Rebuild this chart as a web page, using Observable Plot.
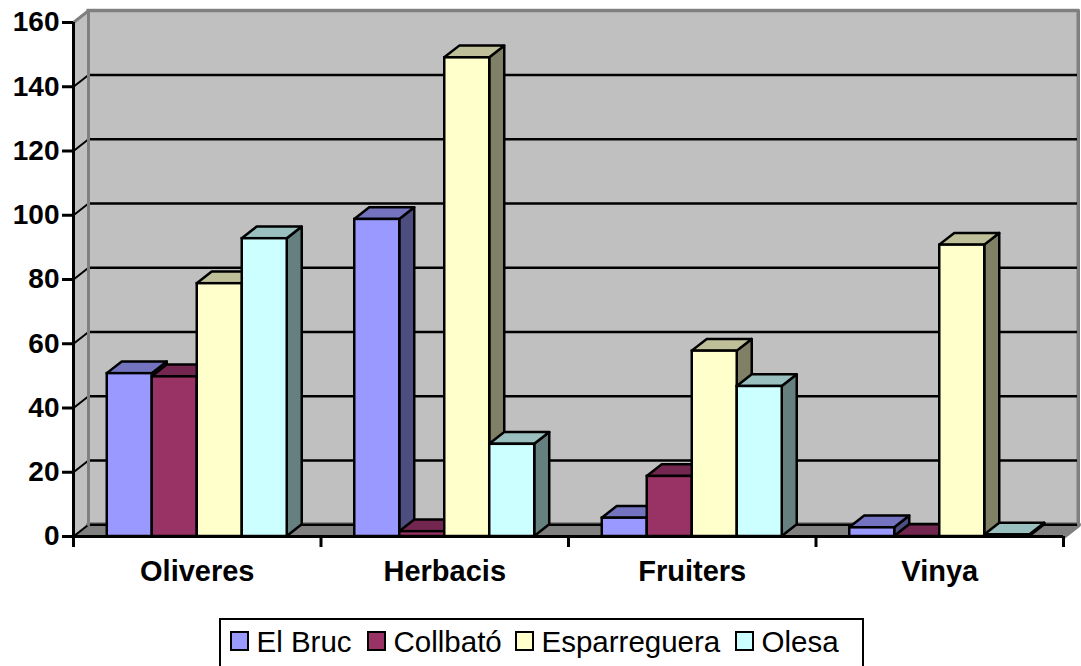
<!DOCTYPE html>
<html><head><meta charset="utf-8">
<script src="https://cdn.jsdelivr.net/npm/d3@7"></script>
<script src="https://cdn.jsdelivr.net/npm/@observablehq/plot@0.6"></script>
<style>
html,body{margin:0;padding:0;background:#fff;width:1081px;height:666px;overflow:hidden}
body{position:relative;font-family:"Liberation Sans",Arial,sans-serif}
#chart svg{display:block}
#legend{position:absolute;left:219px;top:618px;width:641px;height:70px;border:2.5px solid #000;font-size:29.5px;line-height:34px;color:#000}
.sw{display:inline-block;box-sizing:border-box;width:19px;height:20px;border:2.5px solid #000;flex:none;margin-top:6px}
.it{display:flex;position:absolute;top:5px}
.it span:last-child{margin-left:8px}
</style></head><body>
<div id="chart"></div>
<div id="legend"></div>
<script>
const categories = ["Oliveres", "Herbacis", "Fruiters", "Vinya"];
const seriesNames = ["El Bruc", "Collbató", "Esparreguera", "Olesa"];
const elBruc = [50.7, 98.7, 5.7, 2.7];
const collbato = [49.7, 1.5, 18.7, 0];
const esparreguera = [78.7, 149, 57.7, 90.7];
const olesa = [92.7, 28.7, 46.7, 0.5];
const seriesValues = [elBruc, collbato, esparreguera, olesa];
const frontColors = ["#9999ff", "#993366", "#ffffcc", "#ccffff"];
const sideColors = ["#4d4d80", "#4d1a33", "#808066", "#668080"];
const topColors = ["#7373bf", "#732650", "#bfbf99", "#99bfbf"];
const yTicks = [0, 20, 40, 60, 80, 100, 120, 140, 160];

const depthX = 0.0606, depthY = 3.65, barW = 0.1818, gap = (1 - 4 * barW) / 2;
const bw = 2.5;
const marks = [];

// walls and floor
marks.push(Plot.areaX([{y:0,a:0,b:4},{y:depthY,a:depthX,b:4+depthX}],
  {y:"y",x1:"a",x2:"b",fill:"#808080",stroke:"#808080",strokeWidth:1}));
marks.push(Plot.rect([{}],{x1:depthX,x2:4+depthX,y1:depthY,y2:160+depthY,fill:"#c0c0c0",stroke:"#808080",strokeWidth:3}));
marks.push(Plot.areaY([{x:0,a:0,b:160},{x:depthX,a:depthY,b:160+depthY}],
  {x:"x",y1:"a",y2:"b",fill:"#c0c0c0",stroke:"#808080",strokeWidth:1}));
marks.push(Plot.line([{x:depthX,y:depthY},{x:4+depthX,y:depthY},{x:4,y:0}],{x:"x",y:"y",stroke:"#808080",strokeWidth:5}));
// grid
marks.push(Plot.ruleY(yTicks.slice(1,-1).concat(0),{y:d=>d+depthY,x1:depthX,x2:4+depthX,stroke:"#000",strokeWidth:2.5}));
for (const t of yTicks.slice(0,-1))
  marks.push(Plot.line([{x:0,y:t},{x:depthX,y:t+depthY}],{x:"x",y:"y",stroke:"#000",strokeWidth:2}));
marks.push(Plot.line([{x:depthX,y:depthY},{x:depthX,y:160+depthY}],{x:"x",y:"y",stroke:"#808080",strokeWidth:3}));
marks.push(Plot.line([{x:0,y:160},{x:depthX,y:160+depthY},{x:4+depthX,y:160+depthY},{x:4+depthX,y:depthY}],{x:"x",y:"y",stroke:"#808080",strokeWidth:3}));

// bars
categories.forEach((c, i) => {
  seriesValues.forEach((vals, s) => {
    const v = vals[i], x1 = i + gap + s * barW, x2 = x1 + barW;
    marks.push(Plot.areaY([{x:x2,a:0,b:v},{x:x2+depthX,a:depthY,b:v+depthY}],
      {x:"x",y1:"a",y2:"b",fill:sideColors[s],stroke:"#000",strokeWidth:bw,strokeLinejoin:"round"}));
    marks.push(Plot.areaX([{y:v,a:x1,b:x2},{y:v+depthY,a:x1+depthX,b:x2+depthX}],
      {y:"y",x1:"a",x2:"b",fill:topColors[s],stroke:"#000",strokeWidth:bw,strokeLinejoin:"round"}));
    marks.push(Plot.rect([{}],{x1,x2,y1:0,y2:v,fill:frontColors[s],stroke:"#000",strokeWidth:bw}));
  });
});

// axes
marks.push(Plot.ruleX([0],{y1:0,y2:160,stroke:"#000",strokeWidth:3}));
marks.push(Plot.ruleY([0],{x1:0,x2:4,stroke:"#000",strokeWidth:3}));
const axisFont = {fontWeight:"bold",fontFamily:"'Liberation Sans',Arial,sans-serif",fill:"#000"};
marks.push(Plot.axisY({ticks:yTicks,tickSize:11,tickPadding:3,strokeWidth:3,stroke:"#000",label:null,tickFormat:d=>d,fontSize:28,...axisFont}));
marks.push(Plot.axisX({ticks:[0,1,2,3,4],tickSize:11,strokeWidth:3,stroke:"#000",label:null,tickFormat:()=>""}));
marks.push(Plot.axisX({ticks:[0.5,1.5,2.5,3.5],tickSize:0,tickPadding:24,label:null,tickFormat:d=>categories[Math.floor(d)],fontSize:29,...axisFont}));

const plot = Plot.plot({
  width:1081, height:612,
  marginLeft:73, marginRight:18, marginTop:22, marginBottom:76,
  x:{type:"linear",domain:[0,4],axis:null},
  y:{type:"linear",domain:[0,160],axis:null},
  style:{background:"#fff",overflow:"visible"},
  marks
});
document.getElementById("chart").append(plot);

const legend = document.getElementById("legend");
const swatchX = [8.5, 145.5, 293.5, 513.5];
seriesNames.forEach((n, i) => {
  const it = document.createElement("div"); it.className = "it"; it.style.left = swatchX[i] + "px";
  const sw = document.createElement("span"); sw.className = "sw"; sw.style.background = frontColors[i];
  const tx = document.createElement("span"); tx.textContent = n;
  it.append(sw, tx); legend.append(it);
});
</script>
</body></html>
